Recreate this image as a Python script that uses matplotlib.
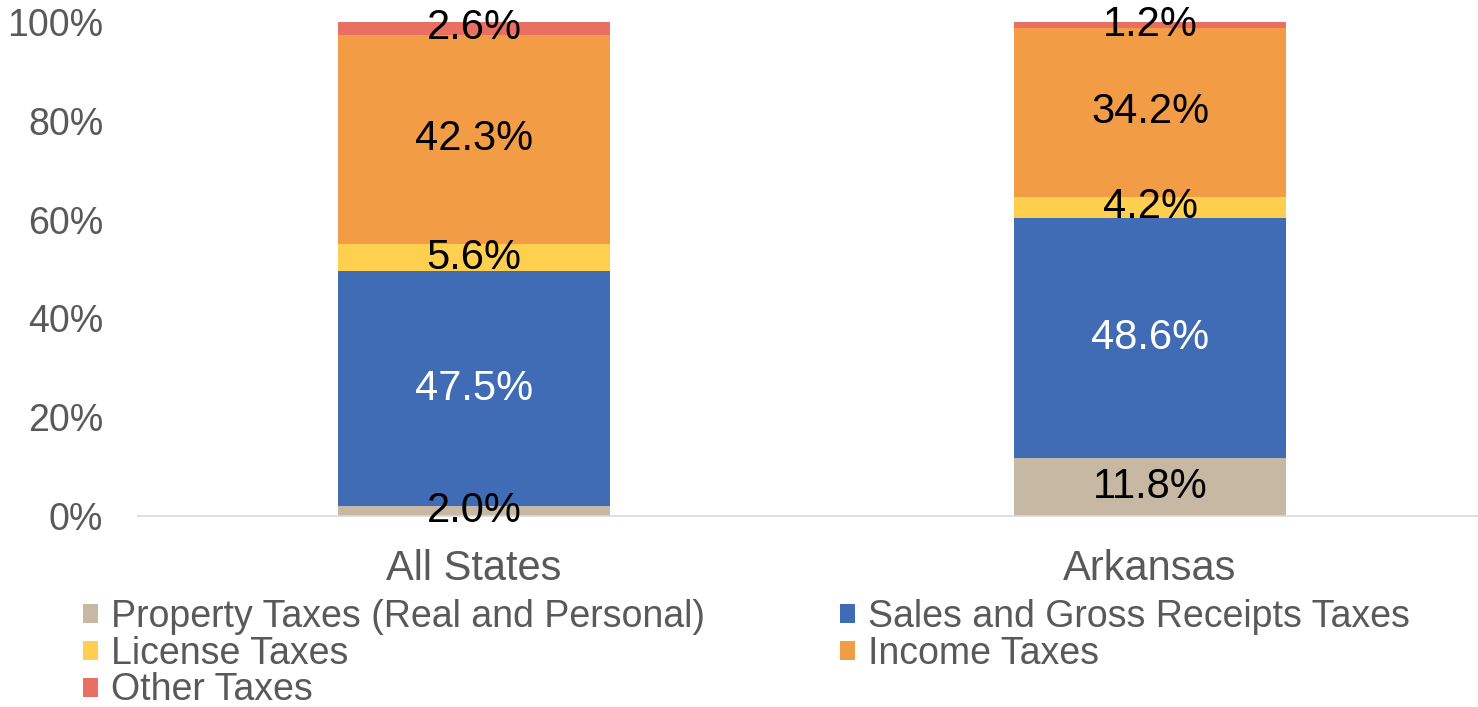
"""Stacked 100% bar: state tax revenue composition, All States vs Arkansas."""

import matplotlib
matplotlib.use("Agg")
import matplotlib.pyplot as plt
import matplotlib.ticker as mticker
import numpy as np

plt.rcParams.update({
    "font.family": ["Liberation Sans", "DejaVu Sans"],
    "font.size": 27,
})

categories = ["All States", "Arkansas"]
series_names = ["Property Taxes (Real and Personal)", "Sales and Gross Receipts Taxes",
                "License Taxes", "Income Taxes", "Other Taxes"]
property_taxes = [2.0, 11.8]
sales_taxes = [47.5, 48.6]
license_taxes = [5.6, 4.2]
income_taxes = [42.3, 34.2]
other_taxes = [2.6, 1.2]

COLORS = ["#C6B8A3", "#3F6CB4", "#FFD050", "#F39C46", "#E96F62"]
LABEL_COLORS = ["black", "white", "black", "black", "black"]
GRAY = "#595959"

series = [property_taxes, sales_taxes, license_taxes, income_taxes, other_taxes]

fig = plt.figure(figsize=(14.78, 7.07), dpi=100)
ax = fig.add_axes([138 / 1478, 1 - 516 / 707, 1340 / 1478, 494 / 707])

x = np.arange(len(categories))
width = 0.403
bottom = np.zeros(len(categories))
handles = []
for name, vals, c, lc in zip(series_names, series, COLORS, LABEL_COLORS):
    vals = np.array(vals)
    bars = ax.bar(x, vals, width, bottom=bottom, color=c, label=name, linewidth=0)
    handles.append(bars)
    for xi, b, v in zip(x, bottom, vals):
        ax.text(xi, b + v / 2, f"{v:.1f}%", ha="center", va="center",
                fontsize=30, color=lc)
    bottom += vals

ax.set_xlim(-0.497, 1.485)
ax.set_ylim(0, 100)
ax.set_yticks(np.arange(0, 101, 20))
ax.yaxis.set_major_formatter(mticker.FuncFormatter(lambda v, _: f"{v:.0f}%"))
ax.set_xticks(x)
ax.set_xticklabels(categories, fontsize=30, color=GRAY)
ax.tick_params(axis="y", length=0, labelsize=27, labelcolor=GRAY, pad=25)
ax.tick_params(axis="x", length=0, pad=24)
for side in ["top", "right", "left"]:
    ax.spines[side].set_visible(False)
ax.spines["bottom"].set_color("#D9D9D9")
ax.spines["bottom"].set_linewidth(1.2)

# legend in two columns, row-major order like the reference
order = [0, 2, 4, 1, 3]
leg = fig.legend([handles[i] for i in order], [series_names[i] for i in order],
                 ncol=2, loc="upper left", bbox_to_anchor=(83 / 1478, 1 - 599 / 707),
                 frameon=False, fontsize=27, handlelength=0.4, handleheight=0.4,
                 handletextpad=0.35, labelspacing=0.02, columnspacing=3.6,
                 borderaxespad=0, borderpad=0)
for t in leg.get_texts():
    t.set_color(GRAY)

fig.savefig("out.png", dpi=100)
